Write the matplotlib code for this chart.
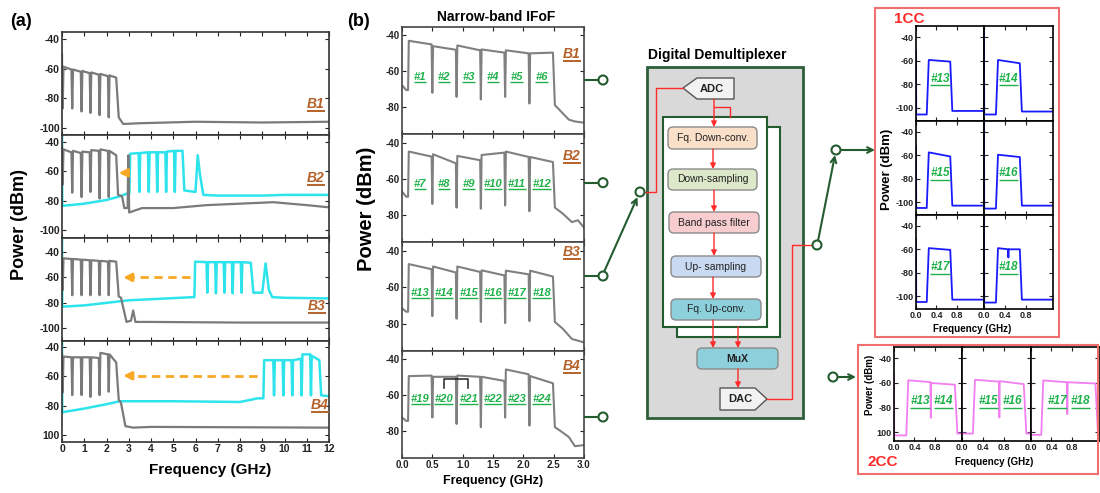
import matplotlib.pyplot as plt
from matplotlib.patches import Rectangle, FancyBboxPatch, Polygon, Circle

plt.rcParams['font.family'] = ['Liberation Sans', 'DejaVu Sans']

W, H = 1100, 493

# ---------------- (a) wide-band spectra, GHz / dBm ----------------
a_edges = [0.03, 0.46, 0.88, 1.28, 1.69, 2.1, 2.47]

a1_head_f = [0.0, 0.01]
a1_head_p = [-50, -87]
a1_top_s = [-58.6, -60.5, -61.5, -62.5, -63.5, -64.5]
a1_top_e = [-60.5, -62, -63, -64, -65, -66]
a1_dips = [-87, -89, -90, -91.5, -93]
a1_tail_f = [2.55, 2.75, 3.5, 6, 9, 12]
a1_tail_p = [-93, -97.5, -97, -96, -96.5, -96]

a2_head_f = [0.0, 0.01]
a2_head_p = [-42.6, -69]
a2_top_s = [-45, -46, -46.5, -45.5, -45, -46]
a2_top_e = [-47, -47.5, -47, -46, -46, -49]
a2_dips = [-74.5, -77.5, -74, -78.5, -77.5]
a2_tail_f = [2.52, 2.7, 2.8, 2.95, 2.98, 3.02, 3.6, 5, 6.5, 8, 9.5, 11, 12]
a2_tail_p = [-76, -77, -85, -85, -49, -88, -85, -85, -83, -82, -81, -83, -84.5]

a2c_head_f = [0.0, 0.01, 1, 2, 2.6, 2.95]
a2c_head_p = [-35, -83.5, -82, -79.5, -77, -75]
a2c_edges = [3.03, 3.48, 3.9, 4.28, 4.68, 5.07, 5.45]
a2c_top_s = [-48, -47.5, -47, -47, -46.5, -46]
a2c_top_e = [-47.5, -47, -47, -47, -46, -46]
a2c_dips = [-74, -74, -74, -74, -74]
a2c_tail_f = [5.5, 6.0, 6.1, 6.2, 6.35, 7, 9, 10, 12]
a2c_tail_p = [-73, -74, -49, -62, -76, -76.5, -76.5, -76, -76]

a3_head_f = [0.0, 0.01]
a3_head_p = [-45, -70]
a3_top_s = [-45, -45.5, -46, -46.5, -47, -47]
a3_top_e = [-45.5, -46, -46.5, -47, -47.5, -47.6]
a3_dips = [-74, -74, -74, -74, -74]
a3_tail_f = [2.55, 2.65, 2.9, 3.1, 3.2, 3.3, 4, 8, 12]
a3_tail_p = [-75, -76, -95, -94, -86, -95, -95, -95.5, -95.5]

a3c_head_f = [0.0, 0.01, 1, 3, 5.9]
a3c_head_p = [-29, -83, -82, -78, -75.5]
a3c_edges = [5.95, 6.53, 6.92, 7.3, 7.67, 8.07, 8.52]
a3c_top_s = [-47.6, -48, -48, -48, -48, -48]
a3c_top_e = [-48, -48, -48, -48, -48, -48.5]
a3c_dips = [-72, -72.5, -72, -72.5, -72]
a3c_tail_f = [8.6, 9.0, 9.15, 9.3, 9.45, 10, 12]
a3c_tail_p = [-72, -72, -49, -70, -75.5, -76, -76.5]

a4_head_f = [0.0, 0.01]
a4_head_p = [-45, -71]
a4_top_s = [-46.5, -47, -47, -47, -44, -45]
a4_top_e = [-47, -47, -47, -47.5, -45, -50.5]
a4_dips = [-72.8, -72.8, -74, -72.8, -70.5]
a4_tail_f = [2.55, 2.65, 2.85, 3.2, 4, 12]
a4_tail_p = [-76, -78, -94, -95, -94.5, -95]

a4c_head_f = [0.0, 0.01, 1, 2, 2.6, 5, 8, 8.8]
a4c_head_p = [-36, -84.5, -82, -79, -77, -77, -77.5, -75]
a4c_edges = [9.05, 9.53, 9.95, 10.35, 10.77, 11.19, 11.6]
a4c_top_s = [-49, -49, -49, -49, -45, -46]
a4c_top_e = [-49, -49, -49, -48, -45, -49]
a4c_dips = [-73, -73, -73, -73, -73]
a4c_tail_f = [11.65, 12]
a4c_tail_p = [-73, -73.5]

# frequency shift arrows (from, to, level)
shift_from = [2.9, 5.75, 8.75]
shift_to = [2.55, 2.75, 2.75]
shift_p = [-61, -60, -59.6]

a_band_names = ['B1', 'B2', 'B3', 'B4']
a_xticklabels = [str(v) for v in range(13)]

# ---------------- (b) narrow-band IFoF spectra ----------------
b_edges = [0.1, 0.5, 0.9, 1.3, 1.7, 2.1, 2.5]
b_head_f = [0.0, 0.07]

b1_head_p = [-67.8, -70.5]
b1_top_s = [-43, -46, -45.6, -47.8, -48.3, -50]
b1_top_e = [-45, -48, -48.3, -49.6, -50, -49.6]
b1_dips = [-72, -74.3, -75.7, -74.3, -78]
b1_tail_f = [2.52, 2.6, 2.75, 2.85, 3.0]
b1_tail_p = [-78.9, -81.7, -87, -88, -88.7]

b2_head_p = [-67.2, -70]
b2_top_s = [-45, -46.5, -47.4, -46.9, -45, -48]
b2_top_e = [-47.8, -51.5, -49.8, -45.6, -48, -50.8]
b2_dips = [-74, -76, -76.6, -74.8, -78]
b2_tail_f = [2.52, 2.65, 2.8, 2.9, 3.0]
b2_tail_p = [-76, -79.3, -84, -83, -87]

b3_head_p = [-71.6, -73.5]
b3_top_s = [-47.4, -48.7, -48.7, -50.8, -51, -51]
b3_top_e = [-50.2, -52, -51.7, -53.6, -53, -54.2]
b3_dips = [-75.9, -77.3, -79.1, -79.7, -78.6]
b3_tail_f = [2.52, 2.65, 2.8, 3.0]
b3_tail_p = [-79.1, -82.8, -88.4, -90.3]

b4_head_p = [-72.4, -74.3]
b4_top_s = [-49.3, -49.7, -49, -49.7, -45.6, -49.3]
b4_top_e = [-49, -49.7, -49.7, -52, -48.3, -53.3]
b4_dips = [-72.4, -76, -77.8, -72.4, -76.9]
b4_tail_f = [2.52, 2.6, 2.75, 2.85, 3.0]
b4_tail_p = [-77.8, -79.6, -83.3, -88.4, -87.8]

b_label_f = [0.3, 0.69, 1.1, 1.5, 1.89, 2.3]
b_label_p = [-63, -63, -63, -62]
b_labels = [['#1', '#2', '#3', '#4', '#5', '#6'],
            ['#7', '#8', '#9', '#10', '#11', '#12'],
            ['#13', '#14', '#15', '#16', '#17', '#18'],
            ['#19', '#20', '#21', '#22', '#23', '#24']]
b_xticklabels = ['0.0', '0.5', '1.0', '1.5', '2.0', '2.5', '3.0']
bracket_f = [0.69, 0.69, 1.09, 1.09]
bracket_p = [-55.7, -51.1, -51.1, -55.7]

# ---------------- 1CC: six single-channel outputs ----------------
cc1_names = ['#13', '#14', '#15', '#16', '#17', '#18']
cc1_spike = [-52, -36, -52.5, -32, -51, -31]
cc1_floor_l = [-105.5, -105.5, -105, -105.5, -105, -105.5]
cc1_rise = [0.23, 0.25, 0.23, 0.25, 0.23, 0.25]
cc1_top_s = [-59.4, -59.4, -57.5, -59.5, -59, -59]
cc1_top_e = [-60.8, -62.2, -61, -61.5, -60.5, -60]
cc1_fall = [0.69, 0.71, 0.69, 0.71, 0.69, 0.71]
cc1_floor_r = [-102.5, -103, -103, -103, -103, -103]
cc18_notch_f = 0.47
cc18_notch_p = -67

# ---------------- 2CC: three two-channel outputs ----------------
cc2_names = [['#13', '#14'], ['#15', '#16'], ['#17', '#18']]
cc2_start = [-52, -98.5, -97.6]
cc2_floor_l = [-102.5, -101, -102]
cc2_rise = [0.26, 0.23, 0.22]
cc2_lvl1 = [-57.9, -57.5, -58]
cc2_mid = [0.72, 0.72, 0.71]
cc2_dip = [-88.2, -88, -85.3]
cc2_lvl2_s = [-60.1, -58.6, -59.5]
cc2_lvl2_e = [-61.5, -61, -60.5]
cc2_fall = [1.21, 1.21, 1.28]
cc2_floor_r = [-101, -101, -101]
cc2_label_f = [0.51, 0.97]

cc_xticklabels = ['0.0', '0.4', '0.8']

GRAY = '#7a7a7a'
CYAN = '#2ee4ec'
BROWN = '#b4622a'
GREEN = '#1fb24a'
DKGREEN = '#245c30'
RED = '#ff2a2a'
ORANGE = '#f7a825'

fig = plt.figure(figsize=(W / 100, H / 100), dpi=100)
underlined = []


def px_axes(x0, y0, x1, y1):
    return fig.add_axes([x0 / W, 1 - y1 / H, (x1 - x0) / W, (y1 - y0) / H])


def band_trace(head_f, head_p, edges, top_s, top_e, dips, tail_f, tail_p, step):
    f = list(head_f) + [edges[0]]
    p = list(head_p) + [head_p[-1]]
    for i in range(len(top_s)):
        f += [edges[i] + step, edges[i + 1] - step]
        p += [top_s[i], top_e[i]]
        if i < len(dips):
            f.append(edges[i + 1])
            p.append(dips[i])
    return f + list(tail_f), p + list(tail_p)


def style_ax(ax, xlim, ylim, xticks, yticks, ylabels, xlabels, size, spine_col='#333333'):
    ax.set_xlim(*xlim)
    ax.set_ylim(*ylim)
    ax.set_xticks(xticks)
    ax.set_yticks(yticks)
    ax.tick_params(direction='in', top=True, right=True, length=3, width=0.8,
                   pad=1.5, labelsize=size, colors='#222222')
    if ylabels is None:
        ax.tick_params(labelleft=False)
    else:
        ax.set_yticklabels(ylabels, fontweight='bold')
    if xlabels is None:
        ax.tick_params(labelbottom=False)
    else:
        ax.set_xticklabels(xlabels, fontweight='bold')
    for s in ax.spines.values():
        s.set_color(spine_col)
        s.set_linewidth(1.2)


def green_label(ax, x, y, txt, size=8):
    t = ax.text(x, y, txt, ha='center', va='center', color=GREEN, fontsize=size,
                fontweight='bold', fontstyle='italic')
    underlined.append((t, GREEN, 1.0))


# ---- panel (a) ----
a_rows = [32, 135, 238, 341, 442]
a_ylims = [(-105, -35), (-105.4, -35.2), (-110, -29), (-104.8, -35.9)]
a_ylabels = [['-40', '-60', '-80', '-100']] * 3 + [['-40', '-60', '-80', '100']]
a_gray = [
    band_trace(a1_head_f, a1_head_p, a_edges, a1_top_s, a1_top_e, a1_dips, a1_tail_f, a1_tail_p, 0.035),
    band_trace(a2_head_f, a2_head_p, a_edges, a2_top_s, a2_top_e, a2_dips, a2_tail_f, a2_tail_p, 0.035),
    band_trace(a3_head_f, a3_head_p, a_edges, a3_top_s, a3_top_e, a3_dips, a3_tail_f, a3_tail_p, 0.035),
    band_trace(a4_head_f, a4_head_p, a_edges, a4_top_s, a4_top_e, a4_dips, a4_tail_f, a4_tail_p, 0.035),
]
a_cyan = [
    None,
    band_trace(a2c_head_f, a2c_head_p, a2c_edges, a2c_top_s, a2c_top_e, a2c_dips, a2c_tail_f, a2c_tail_p, 0.035),
    band_trace(a3c_head_f, a3c_head_p, a3c_edges, a3c_top_s, a3c_top_e, a3c_dips, a3c_tail_f, a3c_tail_p, 0.035),
    band_trace(a4c_head_f, a4c_head_p, a4c_edges, a4c_top_s, a4c_top_e, a4c_dips, a4c_tail_f, a4c_tail_p, 0.035),
]
for i in range(4):
    ax = px_axes(62, a_rows[i], 329, a_rows[i + 1])
    if a_cyan[i] is not None:
        ax.plot(a_cyan[i][0], a_cyan[i][1], color=CYAN, lw=1.8)
    ax.plot(a_gray[i][0], a_gray[i][1], color=GRAY, lw=1.6)
    style_ax(ax, (0, 12), a_ylims[i], range(13), [-40, -60, -80, -100],
             a_ylabels[i], a_xticklabels if i == 3 else None, 7.5)
    if i > 0:
        k = i - 1
        if k > 0:
            ax.plot([shift_from[k], shift_to[k] + 0.3], [shift_p[k]] * 2, color=ORANGE,
                    lw=2, ls=(0, (3, 2)))
        ax.annotate('', xy=(shift_to[k], shift_p[k]), xytext=(shift_to[k] + 0.4, shift_p[k]),
                    arrowprops=dict(arrowstyle='-|>', color=ORANGE, lw=2,
                                    mutation_scale=12, shrinkA=0, shrinkB=0))

# ---- panel (b) ----
b_rows = [27, 134, 242, 351, 458]
b_traces = [
    band_trace(b_head_f, b1_head_p, b_edges, b1_top_s, b1_top_e, b1_dips, b1_tail_f, b1_tail_p, 0.012),
    band_trace(b_head_f, b2_head_p, b_edges, b2_top_s, b2_top_e, b2_dips, b2_tail_f, b2_tail_p, 0.012),
    band_trace(b_head_f, b3_head_p, b_edges, b3_top_s, b3_top_e, b3_dips, b3_tail_f, b3_tail_p, 0.012),
    band_trace(b_head_f, b4_head_p, b_edges, b4_top_s, b4_top_e, b4_dips, b4_tail_f, b4_tail_p, 0.012),
]
for i in range(4):
    ax = px_axes(402, b_rows[i], 584, b_rows[i + 1])
    ax.plot(b_traces[i][0], b_traces[i][1], color='#808080', lw=1.5)
    style_ax(ax, (0, 3), (-95, -35.3), [0, 0.5, 1, 1.5, 2, 2.5, 3], [-40, -60, -80],
             ['-40', '-60', '-80'], b_xticklabels if i == 3 else None, 7, '#444444')
    for j in range(6):
        green_label(ax, b_label_f[j], b_label_p[i], b_labels[i][j])
    if i == 3:
        ax.plot(bracket_f, bracket_p, color='#222222', lw=1.1)

# ---- 1CC ----
cc1_cols = [916, 984, 1053]
cc1_rows = [26, 121, 215, 309]
for k in range(6):
    r, c = k // 2, k % 2
    ax = px_axes(cc1_cols[c], cc1_rows[r], cc1_cols[c + 1], cc1_rows[r + 1])
    f = [0, 0.004, 0.03, cc1_rise[k] - 0.02, cc1_rise[k] + 0.02]
    p = [cc1_spike[k], cc1_floor_l[k], cc1_floor_l[k], cc1_floor_l[k], cc1_top_s[k]]
    if k == 5:
        f += [cc18_notch_f - 0.006, cc18_notch_f, cc18_notch_f + 0.006]
        p += [-60, cc18_notch_p, -60]
    f += [cc1_fall[k] - 0.02, cc1_fall[k] + 0.02, 1.33]
    p += [cc1_top_e[k], cc1_floor_r[k], cc1_floor_r[k]]
    ax.plot(f, p, color='#1a1aff', lw=1.3)
    style_ax(ax, (0, 1.33), (-111, -30.7), [0, 0.4, 0.8], [-40, -60, -80, -100],
             ['-40', '-60', '-80', '-100'] if c == 0 else None,
             cc_xticklabels if r == 2 else None, 6.5, 'black')
    green_label(ax, 0.47, -75.5, cc1_names[k], 8.5)

# ---- 2CC ----
cc2_cols = [894, 962, 1031, 1099]
for k in range(3):
    ax = px_axes(cc2_cols[k], 347, cc2_cols[k + 1], 441)
    f = [0, 0.004, cc2_rise[k] - 0.02, cc2_rise[k] + 0.02,
         cc2_mid[k] - 0.008, cc2_mid[k], cc2_mid[k] + 0.008,
         cc2_fall[k] - 0.02, cc2_fall[k] + 0.03, 1.33]
    p = [cc2_start[k], cc2_floor_l[k], cc2_floor_l[k], cc2_lvl1[k],
         cc2_lvl1[k] - 1.5, cc2_dip[k], cc2_lvl2_s[k],
         cc2_lvl2_e[k], cc2_floor_r[k], cc2_floor_r[k]]
    ax.plot(f, p, color='#f27ef2', lw=1.3)
    style_ax(ax, (0, 1.33), (-107, -31), [0, 0.4, 0.8], [-40, -60, -80, -100],
             ['-40', '-60', '-80', '100'] if k == 0 else None, cc_xticklabels, 6.5, 'black')
    for j in range(2):
        green_label(ax, cc2_label_f[j], -75, cc2_names[k][j], 8.5)

# ---- overlay: labels, block diagram and connectors (pixel coordinates) ----
ov = fig.add_axes([0, 0, 1, 1], zorder=10)
ov.set_xlim(0, W)
ov.set_ylim(H, 0)
ov.axis('off')

ov.text(21, 21, '(a)', ha='center', va='center', fontsize=13, fontweight='bold')
ov.text(359, 21, '(b)', ha='center', va='center', fontsize=13, fontweight='bold')
ov.text(496, 17, 'Narrow-band IFoF', ha='center', va='center', fontsize=10, fontweight='bold')
ov.text(717, 55, 'Digital Demultiplexer', ha='center', va='center', fontsize=10, fontweight='bold')
ov.text(20, 224, 'Power (dBm)', ha='center', va='center', rotation=90, fontsize=13, fontweight='bold')
ov.text(210, 470, 'Frequency (GHz)', ha='center', va='center', fontsize=11, fontweight='bold')
ov.text(367, 209, 'Power (dBm)', ha='center', va='center', rotation=90, fontsize=14.5, fontweight='bold')
ov.text(493, 481, 'Frequency (GHz)', ha='center', va='center', fontsize=9, fontweight='bold')
ov.text(909, 19, '1CC', ha='center', va='center', fontsize=11, fontweight='bold', color=RED)
ov.text(887, 169, 'Power (dBm)', ha='center', va='center', rotation=90, fontsize=9.5, fontweight='bold')
ov.text(972, 329, 'Frequency (GHz)', ha='center', va='center', fontsize=7, fontweight='bold')
ov.text(883, 462, '2CC', ha='center', va='center', fontsize=11, fontweight='bold', color=RED)
ov.text(870, 385, 'Power (dBm)', ha='center', va='center', rotation=90, fontsize=7, fontweight='bold')
ov.text(994, 462, 'Frequency (GHz)', ha='center', va='center', fontsize=7, fontweight='bold')

for name, (x, y) in zip(a_band_names, [(316, 104), (316, 178), (317, 306), (320, 405)]):
    t = ov.text(x, y, name, ha='center', va='center', fontsize=10, fontweight='bold',
                fontstyle='italic', color=BROWN)
    underlined.append((t, BROWN, 1.4))
for name, (x, y) in zip(a_band_names, [(572, 54), (572, 156), (572, 252), (572, 366)]):
    t = ov.text(x, y, name, ha='center', va='center', fontsize=10, fontweight='bold',
                fontstyle='italic', color=BROWN)
    underlined.append((t, BROWN, 1.4))

# red output boxes
ov.add_patch(Rectangle((875, 8), 184, 329, fill=False, ec='#f07070', lw=1.5))
ov.add_patch(Rectangle((858, 345), 240, 129, fill=False, ec='#f07070', lw=1.5))

# demultiplexer block
ov.add_patch(Rectangle((647, 67), 156, 351, fc='#d9d9d9', ec='#2f5f3a', lw=2))
ov.add_patch(Rectangle((677, 127), 103, 210, fc='white', ec=DKGREEN, lw=1.5))
ov.add_patch(Rectangle((663, 117), 104, 210, fc='white', ec=DKGREEN, lw=1.5))
ov.add_patch(Polygon([(683, 88), (697, 78), (734, 78), (734, 99), (697, 99)],
                     closed=True, fc='#f2f2f2', ec='#555555', lw=1))
ov.text(712, 88.5, 'ADC', ha='center', va='center', fontsize=8, fontweight='bold', color='#222222')
ov.add_patch(Polygon([(720, 388), (755, 388), (767, 399), (755, 410), (720, 410)],
                     closed=True, fc='#f2f2f2', ec='#555555', lw=1))
ov.text(740, 399.5, 'DAC', ha='center', va='center', fontsize=8, fontweight='bold', color='#222222')

blocks = [('Fq. Down-conv.', 668, 127, 757, 149, '#fbe0c9'),
          ('Down-sampling', 668, 169, 757, 190, '#dce8c9'),
          ('Band pass filter', 669, 212, 759, 233, '#f8cdd0'),
          ('Up- sampling', 671, 256, 761, 277, '#c9d9f1'),
          ('Fq. Up-conv.', 671, 299, 761, 320, '#8ecfdc'),
          ('MuX', 697, 348, 778, 369, '#8ecfdc')]
for txt, x0, y0, x1, y1, fc in blocks:
    ov.add_patch(FancyBboxPatch((x0, y0), x1 - x0, y1 - y0,
                                boxstyle='round,pad=0,rounding_size=5',
                                fc=fc, ec='#8a8a8a', lw=1))
    ov.text((x0 + x1) / 2, (y0 + y1) / 2, txt, ha='center', va='center', fontsize=7.5,
            fontweight='bold' if txt == 'MuX' else 'normal', color='#222222')


def red_arrow(x0, y0, x1, y1):
    ov.annotate('', xy=(x1, y1), xytext=(x0, y0),
                arrowprops=dict(arrowstyle='-|>', color=RED, lw=1, mutation_scale=8,
                                shrinkA=0, shrinkB=0))


red_arrow(714, 99, 714, 127)
ov.plot([714, 730, 730], [107, 107, 117], color=RED, lw=1)
red_arrow(713, 149, 713, 169)
red_arrow(714, 190, 714, 212)
red_arrow(714, 233, 714, 256)
red_arrow(713, 277, 713, 299)
red_arrow(713, 320, 713, 348)
red_arrow(738, 327, 738, 348)
red_arrow(738, 369, 738, 388)
ov.plot([644, 656, 656, 683], [192, 192, 88, 88], color=RED, lw=1)
ov.plot([767, 792, 792, 812], [399, 399, 245, 245], color=RED, lw=1)


def green_arrow(x0, y0, x1, y1):
    ov.annotate('', xy=(x1, y1), xytext=(x0, y0),
                arrowprops=dict(arrowstyle='->', color=DKGREEN, lw=1.5, mutation_scale=10,
                                shrinkA=0, shrinkB=0))


def tap(x, y):
    ov.add_patch(Circle((x, y), 4.5, fc='white', ec=DKGREEN, lw=1.5, zorder=5))


for y in [80, 182.7, 276, 417]:
    ov.plot([585, 598], [y, y], color=DKGREEN, lw=1.5)
    tap(603, y)
green_arrow(604, 272, 637.5, 197)
tap(640, 192)
green_arrow(818, 241, 835, 155)
tap(817, 245)
tap(836, 150)
green_arrow(841, 150, 875, 150)
tap(833, 377)
green_arrow(838, 377, 856, 377)

# underline the italic channel / band labels
fig.canvas.draw()
for t, col, lw in underlined:
    bb = t.get_window_extent()
    y = H - bb.y0 + 0.3
    ov.plot([bb.x0, bb.x1], [y, y], color=col, lw=lw, solid_capstyle='butt')

fig.savefig('out.png', dpi=100)
